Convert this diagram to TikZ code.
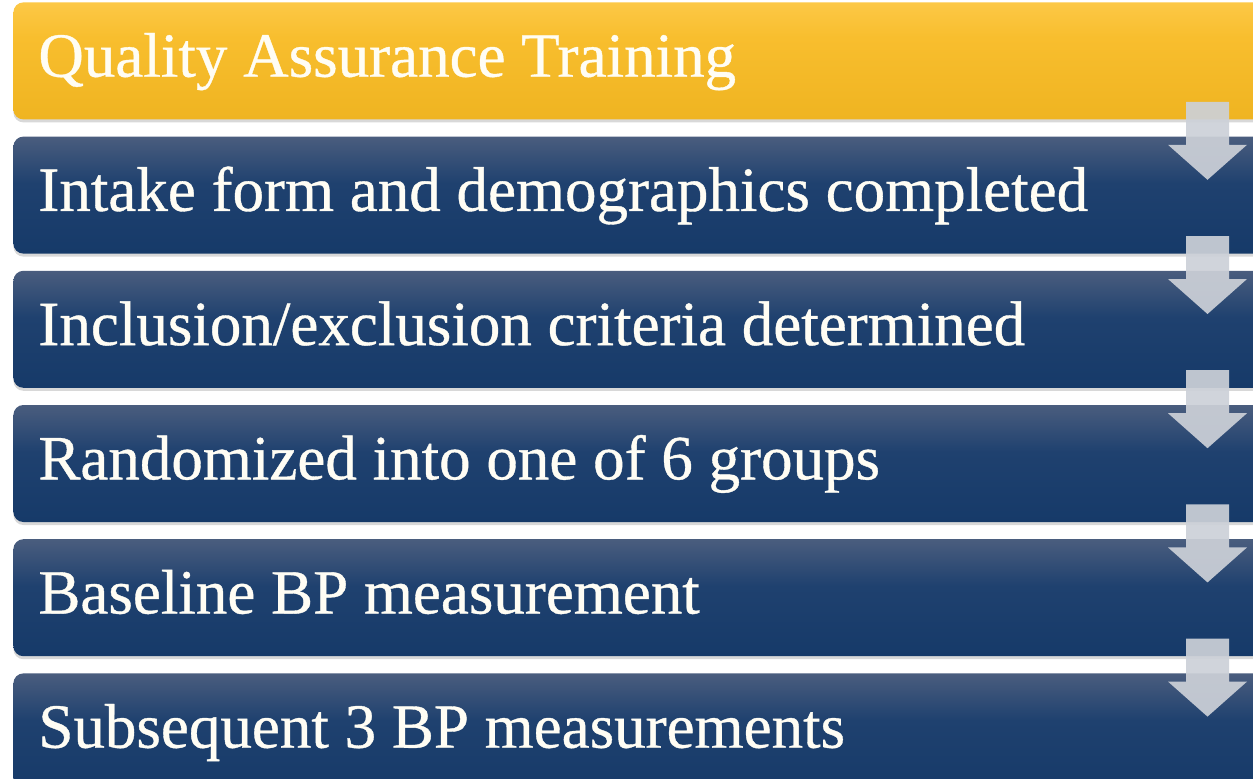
\documentclass[tikz,border=0pt]{standalone}
\usepackage{fontspec}
\setmainfont{Liberation Serif}
\newfontfamily\barfont[FakeBold=0.6]{Liberation Serif}
\usetikzlibrary{positioning, calc, shadows}

\definecolor{bartop}{HTML}{4A5D7E}
\definecolor{barmid}{HTML}{1F416F}
\definecolor{barbottom}{HTML}{163A69}
\definecolor{goldtop}{HTML}{FCC846}
\definecolor{goldmid}{HTML}{F8BE2E}
\definecolor{goldbottom}{HTML}{EFB421}
\definecolor{arrowgray}{HTML}{CDD1D8}
\definecolor{labelwhite}{HTML}{FFFDF4}

% vertical shadings for the step bars (bottom to top)
\pgfdeclareverticalshading{bluebarshade}{100bp}{color(0bp)=(barbottom); color(25bp)=(barbottom);
  color(55bp)=(barmid); color(75bp)=(bartop); color(100bp)=(bartop)}
\pgfdeclareverticalshading{goldbarshade}{100bp}{color(0bp)=(goldbottom); color(25bp)=(goldbottom);
  color(60bp)=(goldmid); color(75bp)=(goldtop); color(100bp)=(goldtop)}

\begin{document}
\begin{tikzpicture}[x=0.5pt, y=-0.5pt,
    stepbar/.style={rectangle, rounded corners=5pt, anchor=north west, inner sep=0pt,
      minimum width=650pt, minimum height=58.5pt,
      drop shadow={shadow xshift=0pt, shadow yshift=-1.5pt, opacity=0.3}},
    bluebar/.style={stepbar, shading=bluebarshade},
    goldbar/.style={stepbar, shading=goldbarshade},
    steplabel/.style={anchor=west, inner sep=0pt, text=labelwhite, text height=20.8pt, text depth=5pt,
      font=\barfont\fontsize{31.5}{36}\selectfont},
    downarrow/.style={fill=arrowgray, fill opacity=0.92}]

      \useasboundingbox (0,0) rectangle (1253,778);
      \clip (0,0) rectangle (1253,778);
      \fill[white] (0,0) rectangle (1253,778);

      \def\pitch{134.2} % distance between two bars

      \node[goldbar] (b1) at (13,2) {};
      \node[steplabel, right=12.5pt of b1.west] (t1) {Quality Assurance Training};

      \foreach \txt [count=\i from 2] in {Intake form and demographics completed,
          Inclusion/exclusion criteria determined, Randomized into one of 6 groups,
          Baseline BP measurement, Subsequent 3 BP measurements} {
        \pgfmathsetmacro\bartop{2 + \pitch*(\i-1)}
        \node[bluebar] (b\i) at (13,\bartop) {};
        \node[steplabel, right=12.5pt of b\i.west] (t\i) {\txt};
      }

      % block arrows between consecutive bars
      \foreach \i in {1,...,5} {
        \coordinate (a\i) at ($(b\i.south west)+(1194.5,-18)$);
        \fill[downarrow] (a\i) ++(-21.5,0) -- ++(43,0) -- ++(0,43) -- ++(18,0)
          -- ++(-39.5,35) -- ++(-39.5,-35) -- ++(18,0) -- cycle;
      }
    \end{tikzpicture}
\end{document}
